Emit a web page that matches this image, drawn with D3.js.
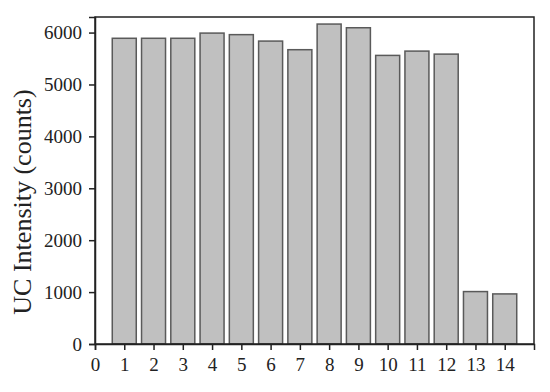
<!DOCTYPE html>
<html><head><meta charset="utf-8">
<script src="https://cdn.jsdelivr.net/npm/d3@7/dist/d3.min.js"></script>
<style>body{margin:0;background:#fff;}svg{display:block;}</style>
</head><body>
<svg id="c" width="550" height="392"></svg>
<script>
const categories = [1,2,3,4,5,6,7,8,9,10,11,12,13,14];
const intensity = [5890,5890,5890,5990,5960,5836,5670,6164,6093,5560,5643,5585,1010,965];
const xTicks = [0,1,2,3,4,5,6,7,8,9,10,11,12,13,14];
const yTicks = [0,1000,2000,3000,4000,5000,6000];
const yLabel = "UC Intensity (counts)";

const svg = d3.select("#c");
const m = {l:95, t:17, r:534, b:344};
const x = d3.scaleLinear().domain([0,15]).range([m.l, m.r]);
const y = d3.scaleLinear().domain([0,6300]).range([m.b, m.t]);
const bw = x(0.82) - x(0);
const font = "'Liberation Serif', 'Times New Roman', serif";

svg.append("g").selectAll("rect").data(categories).join("rect")
  .attr("x", (d)=>x(d)-bw/2)
  .attr("y", (d,i)=>y(intensity[i]))
  .attr("width", bw)
  .attr("height", (d,i)=>y(0)-y(intensity[i]))
  .attr("fill", "#c0c0c0")
  .attr("stroke", "#5a5a5a")
  .attr("stroke-width", 1.5);

svg.append("rect").attr("x", m.l).attr("y", m.t).attr("width", m.r-m.l).attr("height", m.b-m.t)
  .attr("fill","none").attr("stroke","#222").attr("stroke-width",1.5);

const xa = svg.append("g").attr("transform", `translate(0,${m.b})`)
  .call(d3.axisBottom(x).tickValues(xTicks).tickFormat(d3.format("d")).tickSize(6).tickPadding(8));
const ya = svg.append("g").attr("transform", `translate(${m.l},0)`)
  .call(d3.axisLeft(y).tickValues(yTicks).tickFormat(d3.format("d")).tickSize(6).tickPadding(7));
[xa, ya].forEach(a => {
  a.select(".domain").attr("stroke","#222").attr("stroke-width",1.5);
  a.selectAll(".tick line").attr("stroke","#222").attr("stroke-width",1.5);
  a.selectAll("text").attr("font-family", font).attr("font-size", 19).attr("fill","#222");
});

svg.append("text")
  .attr("transform", `translate(31,202) rotate(-90)`)
  .attr("text-anchor","middle")
  .attr("font-family", font).attr("font-size", 26).attr("fill","#222")
  .text(yLabel);
</script>
</body></html>
